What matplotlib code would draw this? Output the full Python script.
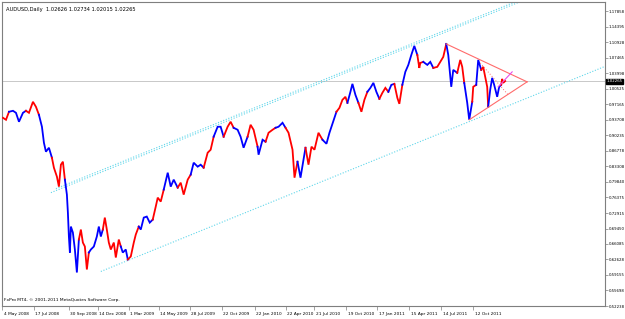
import matplotlib
matplotlib.use("Agg")
import matplotlib.pyplot as plt
import matplotlib.transforms as mtransforms

# bar index along the MT4 time scale, close price, colour group (1 = red, 0 = blue)
bar = [2, 5, 8, 12, 15, 18, 22, 25, 28, 32, 35, 38, 41, 43, 45, 48, 51, 53, 56, 58,
       60, 62, 64, 66, 67, 68, 69, 70, 72, 74, 76, 78, 80, 82, 84, 86, 88, 90, 93, 96,
       98, 100, 102, 104, 106, 108, 110, 113, 115, 118, 120, 122, 125, 127, 130, 133, 135, 138, 140, 143,
       146, 149, 152, 155, 157, 160, 163, 167, 170, 173, 177, 180, 183, 187, 190, 193, 197, 200, 203, 207,
       210, 213, 217, 220, 223, 227, 230, 233, 237, 240, 243, 247, 250, 253, 257, 258, 262, 265, 268, 272,
       275, 278, 282, 285, 288, 292, 294, 297, 300, 305, 308, 311, 314, 318, 322, 326, 329, 332, 336, 339,
       342, 345, 347, 350, 352, 355, 358, 361, 364, 367, 370, 373, 376, 379, 382, 385, 388, 391, 394, 397,
       399, 402, 405, 408, 411, 414, 417, 419, 420, 423, 427, 430, 433, 437, 440, 443, 446, 448, 451, 453,
       457, 460, 462, 464, 467, 469, 472, 473, 476, 478, 481, 483, 487, 488, 490, 492, 494, 497, 499, 501,
       502, 503, 505]
close = [0.9410, 0.9366, 0.9544, 0.9566, 0.9521, 0.9322, 0.9521, 0.9566, 0.9521, 0.9766,
         0.9655, 0.9477, 0.9211, 0.8855, 0.8656, 0.8744, 0.8522, 0.8300, 0.8101, 0.7879,
         0.8367, 0.8434, 0.8034, 0.7701, 0.7301, 0.6769, 0.6413, 0.6991, 0.6857, 0.6480,
         0.5969, 0.6702, 0.6924, 0.6635, 0.6547, 0.6036, 0.6413, 0.6480, 0.6547, 0.6769,
         0.6991, 0.6769, 0.6924, 0.7190, 0.6924, 0.6635, 0.6480, 0.6635, 0.6302, 0.6702,
         0.6547, 0.6413, 0.6480, 0.6258, 0.6325, 0.6635, 0.6813, 0.6991, 0.6924, 0.7190,
         0.7213, 0.7079, 0.7146, 0.7435, 0.7634, 0.7546, 0.7812, 0.8189, 0.7879, 0.8034,
         0.7856, 0.7967, 0.7701, 0.8034, 0.8145, 0.8411, 0.8323, 0.8367, 0.8300, 0.8633,
         0.8700, 0.8989, 0.9211, 0.9211, 0.8989, 0.9211, 0.9322, 0.9188, 0.9144, 0.8989,
         0.8744, 0.8989, 0.9255, 0.9144, 0.8767, 0.8589, 0.8922, 0.8878, 0.9077, 0.9144,
         0.9188, 0.9211, 0.9299, 0.9188, 0.9077, 0.8700, 0.8078, 0.8434, 0.8078, 0.8744,
         0.8367, 0.8767, 0.8700, 0.9077, 0.8922, 0.8833, 0.9077, 0.9277, 0.9544, 0.9632,
         0.9810, 0.9877, 0.9743, 0.9988, 1.0165, 0.9921, 0.9743, 0.9544, 0.9810, 0.9988,
         1.0076, 1.0187, 0.9988, 0.9832, 0.9965, 1.0076, 0.9988, 1.0143, 1.0165, 0.9854,
         0.9721, 1.0143, 1.0432, 1.0587, 1.0809, 1.1009, 1.0809, 1.0520, 1.0631, 1.0654,
         1.0587, 1.0654, 1.0520, 1.0543, 1.0654, 1.0765, 1.1053, 1.0809, 1.0099, 1.0476,
         1.0409, 1.0698, 1.0543, 1.0187, 0.9743, 0.9366, 0.9766, 1.0099, 1.0143, 1.0698,
         1.0476, 1.0543, 1.0099, 0.9655, 1.0032, 1.0298, 1.0143, 0.9877, 1.0099, 1.0143,
         1.0276, 1.0187, 1.0227]
group = [1, 1, 1, 0, 0, 0, 0, 0, 1, 1, 1, 1, 0, 0, 0, 0, 0, 1, 1, 1,
         1, 1, 1, 0, 0, 0, 0, 0, 0, 0, 0, 0, 1, 1, 1, 1, 1, 0, 0, 0,
         0, 0, 0, 1, 1, 1, 1, 1, 1, 1, 1, 0, 0, 0, 1, 1, 1, 1, 0, 0,
         0, 0, 0, 1, 1, 1, 1, 0, 0, 0, 0, 1, 1, 1, 1, 0, 0, 0, 0, 1,
         1, 1, 0, 0, 0, 1, 1, 1, 0, 0, 0, 0, 1, 1, 1, 0, 0, 0, 1, 1,
         1, 0, 0, 0, 1, 1, 1, 1, 0, 0, 1, 1, 1, 1, 1, 0, 0, 0, 0, 1,
         1, 1, 1, 0, 0, 0, 0, 1, 1, 1, 0, 0, 0, 0, 1, 1, 1, 0, 0, 1,
         1, 1, 0, 0, 0, 0, 0, 1, 1, 1, 0, 0, 0, 1, 1, 1, 1, 0, 0, 0,
         0, 1, 1, 1, 0, 0, 0, 1, 1, 0, 0, 1, 1, 1, 0, 0, 0, 0, 0, 0,
         1, 1, 1]

# channel lines (bar, price)
chan_upper_a = ([50, 560], [0.7745, 1.2354])
chan_upper_b = ([55, 560], [0.7834, 1.2396])
chan_lower = ([100, 605], [0.5992, 1.0554])
# triangle
tri_top = ([446, 527], [1.1053, 1.0210])
tri_bottom = ([469, 527], [0.9366, 1.0210])
tri_inner = ([480, 508], [1.0631, 0.9921])
short_trend = ([498, 512], [1.0099, 1.0432])

last_price = 1.02265
price_ticks = [1.17858, 1.14395, 1.10928, 1.07465, 1.03998, 1.00525, 0.97165, 0.93708,
               0.90235, 0.86778, 0.83308, 0.79840, 0.76375, 0.72915, 0.69450, 0.66085,
               0.62628, 0.59155, 0.55698, 0.52238]
date_ticks = [1, 33, 68, 97, 128, 158, 189, 221, 254, 285, 314, 346, 377, 409, 441, 473]
date_labels = ["4 May 2008", "17 Jul 2008", "30 Sep 2008", "14 Dec 2008", "1 Mar 2009",
               "14 May 2009", "28 Jul 2009", "22 Oct 2009", "22 Jan 2010", "22 Apr 2010",
               "21 Jul 2010", "19 Oct 2010", "17 Jan 2011", "15 Apr 2011", "14 Jul 2011",
               "12 Oct 2011"]

W, H = 625, 319
fig = plt.figure(figsize=(W / 100, H / 100), dpi=100)
ax = fig.add_axes([2 / W, (H - 306) / H, 603 / W, 304 / H])
ax.set_xlim(2, 605)
ax.set_ylim(0.52238, 1.19860)

# current price line
ax.axhline(last_price, color="#c8c8c8", lw=0.7, zorder=1)

# channels
for xs, ys in (chan_upper_a, chan_upper_b, chan_lower):
    ax.plot(xs, ys, color="#5fd6ea", lw=0.8, ls=(0, (1, 1.5)), zorder=2)

# price line, coloured in runs
colors = {1: "#ff0000", 0: "#0000ff"}
start = 0
for i in range(1, len(bar) + 1):
    if i == len(bar) or group[i] != group[start]:
        seg = slice(max(start - 1, 0), i)
        ax.plot(bar[seg], close[seg], color=colors[group[start]], lw=1.3,
                solid_joinstyle="miter", zorder=3)
        start = i

# triangle
for xs, ys in (tri_top, tri_bottom):
    ax.plot(xs, ys, color="#ff6b6b", lw=0.8, zorder=4)
ax.plot(*tri_inner, color="#ff6b6b", lw=0.7, ls=(0, (1, 2)), zorder=4)
ax.plot(*short_trend, color="#e84ce8", lw=0.8, zorder=4)

# axes styling, MT4 look
for s in ax.spines.values():
    s.set_color("#7f7f7f")
    s.set_linewidth(0.8)
ax.yaxis.tick_right()
ax.set_yticks(price_ticks)
ax.set_yticklabels([f"{v:.5f}" for v in price_ticks])
ax.tick_params(axis="y", length=2, width=0.5, pad=0.6, labelsize=2.8, colors="#7f7f7f",
               labelcolor="black")
ax.set_xticks(date_ticks)
ax.set_xticklabels(date_labels, ha="left")
ax.tick_params(axis="x", length=3, width=0.5, pad=1, labelsize=3.05, colors="#7f7f7f",
               labelcolor="black")
offset = mtransforms.ScaledTranslation(1.5 / 100, 0, fig.dpi_scale_trans)
for lab in ax.get_xticklabels():
    lab.set_transform(lab.get_transform() + offset)

# current price box on the scale
ax.text(1.003, last_price, f"{last_price:.5f}", transform=ax.get_yaxis_transform(),
        ha="left", va="center", fontsize=2.8, color="white",
        bbox=dict(boxstyle="square,pad=0.15", fc="black", ec="black"))

ax.text(0.006, 0.985, "AUDUSD,Daily  1.02626 1.02734 1.02015 1.02265",
        transform=ax.transAxes, ha="left", va="top", fontsize=3.7)
ax.text(0.003, 0.012, "FxPro MT4, \u00a9 2001-2011 MetaQuotes Software Corp.",
        transform=ax.transAxes, ha="left", va="bottom", fontsize=3.2)

fig.savefig("out.png", dpi=100, facecolor="white")
